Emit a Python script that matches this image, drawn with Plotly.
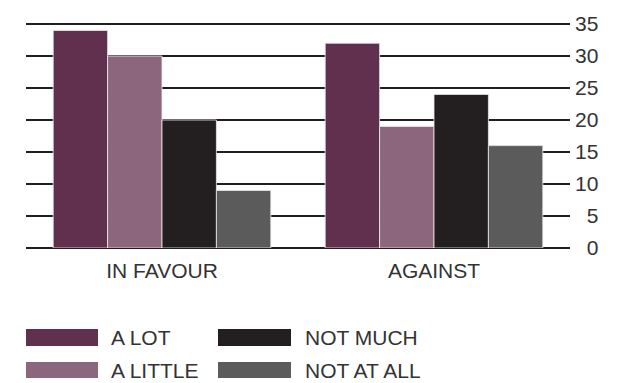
import plotly.graph_objects as go

# Survey responses grouped by stance
categories = ["IN FAVOUR", "AGAINST"]
series_names = ["A LOT", "A LITTLE", "NOT MUCH", "NOT AT ALL"]
a_lot = [34, 32]
a_little = [30, 19]
not_much = [20, 24]
not_at_all = [9, 16]
y_ticks = [0, 5, 10, 15, 20, 25, 30, 35]

series_values = [a_lot, a_little, not_much, not_at_all]
colors = ["#62304F", "#8C667C", "#231F20", "#5B5B5C"]

W, H = 632, 383
L, R, T, B = 26, 62, 23, 135
Y_TOP = 35.16  # a little headroom so the 35 gridline is drawn
FONT = "Liberation Sans, Arial, sans-serif"
TEXT = "#333333"

fig = go.Figure()
for name, vals, col in zip(series_names, series_values, colors):
    fig.add_trace(go.Bar(
        x=categories, y=vals, name=name,
        marker=dict(color=col, line=dict(color="rgba(235,235,235,0.8)", width=1)),
        showlegend=False,
    ))

# Legend drawn in pixel positions (converted to paper coordinates)
def px_x(p):
    return (p - L) / (W - L - R)

def px_y(p):
    return (H - B - p) / (H - T - B)

legend_pos = [(26, 98, 109, 329, 346), (26, 98, 109, 362, 378),
              (218, 291, 303, 329, 346), (218, 291, 303, 362, 378)]
for name, col, (x0, x1, tx, y0, y1) in zip(series_names, colors, legend_pos):
    fig.add_shape(type="rect", xref="paper", yref="paper",
                  x0=px_x(x0), x1=px_x(x1), y0=px_y(y1), y1=px_y(y0),
                  fillcolor=col, line=dict(width=0))
    fig.add_annotation(xref="paper", yref="paper", x=px_x(tx), y=px_y((y0 + y1) / 2),
                       text=name, showarrow=False, xanchor="left", yanchor="middle",
                       font=dict(family=FONT, size=21, color=TEXT))

# right-aligned tick text: pad single digits with a figure space
tick_text = [f"{v:>2}".replace(" ", "\u2007") for v in y_ticks]

fig.update_layout(
    width=W, height=H,
    margin=dict(l=L, r=R, t=T, b=B, pad=0),
    paper_bgcolor="white", plot_bgcolor="white",
    barmode="group", bargap=0.2, bargroupgap=0,
    font=dict(family=FONT, size=21, color=TEXT),
    xaxis=dict(showgrid=False, showline=False, ticks="", ticklabelstandoff=8,
               tickfont=dict(size=21, color=TEXT)),
    yaxis=dict(side="right", range=[0, Y_TOP], tickvals=y_ticks, ticktext=tick_text,
               showgrid=True, gridcolor="#1f1f1f", gridwidth=1.5, zeroline=True,
               zerolinecolor="#1f1f1f", zerolinewidth=1.5, showline=False, ticks="",
               ticklabelstandoff=4, tickfont=dict(size=21, color=TEXT)),
)

fig.write_html("out.html")
